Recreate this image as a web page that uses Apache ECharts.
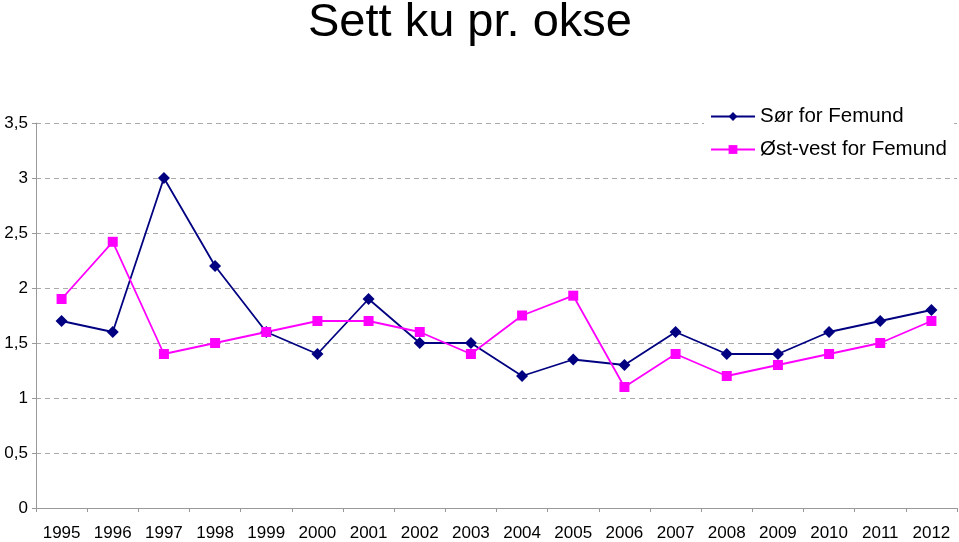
<!DOCTYPE html>
<html><head><meta charset="utf-8">
<script src="https://cdn.jsdelivr.net/npm/echarts@6/dist/echarts.min.js"></script>
<style>html,body{margin:0;padding:0;background:#fff}#c{width:959px;height:542px}</style>
</head><body><div id="c"></div>
<script>
var years = ['1995','1996','1997','1998','1999','2000','2001','2002','2003','2004','2005','2006','2007','2008','2009','2010','2011','2012'];
var sorForFemund = [1.7,1.6,3.0,2.2,1.6,1.4,1.9,1.5,1.5,1.2,1.35,1.3,1.6,1.4,1.4,1.6,1.7,1.8];
var ostVestForFemund = [1.9,2.42,1.4,1.5,1.6,1.7,1.7,1.6,1.4,1.75,1.93,1.1,1.4,1.2,1.3,1.4,1.5,1.7];
var seriesNames = ['Sør for Femund','Øst-vest for Femund'];

var chart = echarts.init(document.getElementById('c'));
var font = 'Liberation Sans, Arial, sans-serif';
chart.setOption({
  animation:false,
  title:{text:'Sett ku pr. okse',left:303,top:-5,textStyle:{fontFamily:font,fontSize:47,fontWeight:'normal',color:'#000'}},
  grid:{left:36,right:2,top:123,bottom:34,containLabel:false},
  legend:{orient:'vertical',left:704,top:103,backgroundColor:'#fff',padding:[3,6,2,6],itemGap:12,itemWidth:44,itemHeight:11,
    textStyle:{fontFamily:font,fontSize:20.5,color:'#000'},data:seriesNames},
  xAxis:{type:'category',data:years,boundaryGap:true,
    axisLine:{lineStyle:{color:'#999'}},axisTick:{show:true,lineStyle:{color:'#999'},length:4},
    axisLabel:{fontFamily:font,fontSize:17,color:'#000',margin:17,interval:0}},
  yAxis:{type:'value',min:0,max:3.5,interval:0.5,
    axisLine:{show:true,lineStyle:{color:'#999'}},axisTick:{show:true,lineStyle:{color:'#999'},length:4},
    axisLabel:{fontFamily:font,fontSize:17,color:'#000',margin:8,formatter:function(v){return String(v).replace('.',',');}},
    splitLine:{lineStyle:{color:'#aaa',type:[5,4]}}},
  series:[
    {name:seriesNames[0],type:'line',data:sorForFemund,symbol:'diamond',symbolSize:12,
      itemStyle:{color:'#000080'},lineStyle:{color:'#000080',width:1.8}},
    {name:seriesNames[1],type:'line',data:ostVestForFemund,symbol:'rect',symbolSize:10,
      itemStyle:{color:'#ff00ff'},lineStyle:{color:'#ff00ff',width:1.8}}
  ]
});
</script></body></html>
